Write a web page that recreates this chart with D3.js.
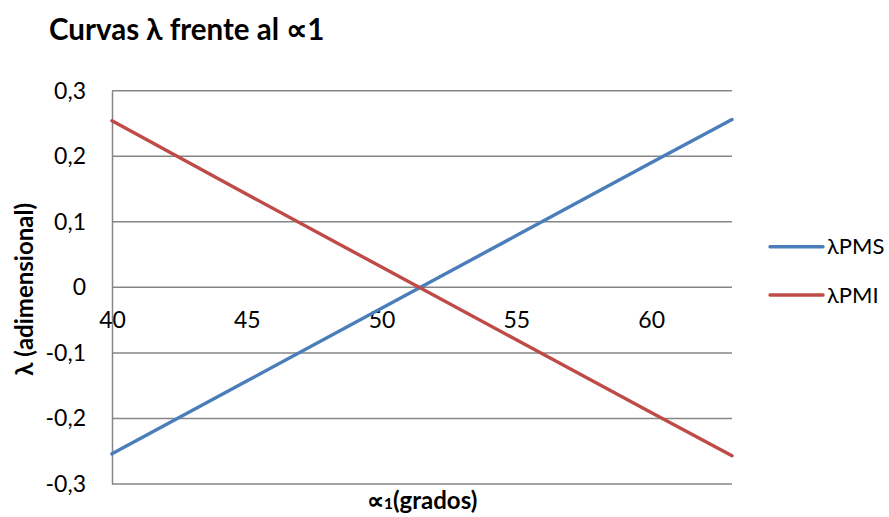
<!DOCTYPE html>
<html>
<head>
<meta charset="utf-8">
<script src="https://cdn.jsdelivr.net/npm/d3@7"></script>
<style>
  html, body { margin: 0; padding: 0; background: #fff; }
  svg { display: block; font-family: Lato, "Open Sans", sans-serif; }
</style>
</head>
<body>
<svg id="chart" width="889" height="517"></svg>
<script>
// Angle alpha1 (degrees) and the two lambda curves
const angles = [40, 45, 50, 55, 60, 63];
const lambdaPMS = [-0.254, -0.143, -0.032, 0.079, 0.190, 0.256];
const lambdaPMI = [0.254, 0.142, 0.031, -0.080, -0.191, -0.257];
const seriesNames = ["λPMS", "λPMI"];
const seriesColors = ["#4A7EBB", "#BE4B48"];
const xTicks = [40, 45, 50, 55, 60];
const yTicks = [-0.3, -0.2, -0.1, 0, 0.1, 0.2, 0.3];

const svg = d3.select("#chart");
const plot = { left: 112, right: 732, top: 90.7, bottom: 484 };

const x = d3.scaleLinear().domain([40, 63]).range([plot.left, plot.right]);
const y = d3.scaleLinear().domain([-0.3, 0.3]).range([plot.bottom, plot.top]);
const fmt = v => (v === 0 ? "0" : d3.format(".1f")(v).replace(".", ",").replace("−", "-"));

// horizontal gridlines
svg.append("g")
  .selectAll("line")
  .data(yTicks)
  .join("line")
  .attr("x1", plot.left).attr("x2", plot.right)
  .attr("y1", d => y(d)).attr("y2", d => y(d))
  .attr("stroke", "#868686").attr("stroke-width", 1.5);

// vertical value axis
const yAxis = svg.append("g")
  .attr("transform", `translate(${plot.left},0)`)
  .call(d3.axisLeft(y).tickValues(yTicks).tickSize(0).tickPadding(26).tickFormat(fmt));
yAxis.select(".domain").attr("stroke", "#868686").attr("stroke-width", 1.5);
yAxis.selectAll("text").attr("font-size", 23).attr("fill", "#000").attr("font-family", "Lato");

// horizontal axis through zero, labels below
const xAxis = svg.append("g")
  .attr("transform", `translate(0,${y(0)})`)
  .call(d3.axisBottom(x).tickValues(xTicks).tickSize(0).tickPadding(24).tickFormat(d3.format("d")));
xAxis.select(".domain").remove();
xAxis.selectAll("text").attr("font-size", 23).attr("fill", "#000").attr("font-family", "Lato");

// curves
const line = d3.line().x(d => x(d[0])).y(d => y(d[1]));
[lambdaPMS, lambdaPMI].forEach((vals, i) => {
  svg.append("path")
    .datum(angles.map((a, k) => [a, vals[k]]))
    .attr("d", line)
    .attr("fill", "none")
    .attr("stroke", seriesColors[i])
    .attr("stroke-width", 3.4)
    .attr("stroke-linecap", "round");
});

// legend
const legend = svg.append("g");
seriesNames.forEach((name, i) => {
  const ly = 246.7 + i * 48.3;
  legend.append("line")
    .attr("x1", 770).attr("x2", 823)
    .attr("y1", ly).attr("y2", ly)
    .attr("stroke", seriesColors[i]).attr("stroke-width", 3.4)
    .attr("stroke-linecap", "round");
  legend.append("text")
    .attr("x", 827).attr("y", ly)
    .attr("dy", "0.35em")
    .attr("font-size", 22)
    .text(name);
});

// title
svg.append("text")
  .attr("x", 49).attr("y", 40)
  .attr("font-size", 29.5).attr("font-weight", "bold")
  .text("Curvas λ frente al ∝1");

// axis titles
svg.append("text")
  .attr("transform", `translate(33,${(plot.top + plot.bottom) / 2 + 2}) rotate(-90)`)
  .attr("text-anchor", "middle")
  .attr("font-size", 24).attr("font-weight", "bold")
  .text("λ (adimensional)");

const xt = svg.append("text")
  .attr("x", 422).attr("y", 509)
  .attr("text-anchor", "middle")
  .attr("font-size", 24).attr("font-weight", "bold");
xt.append("tspan").text("∝");
xt.append("tspan").attr("font-size", 16).text("1");
xt.append("tspan").text("(grados)");
</script>
</body>
</html>
